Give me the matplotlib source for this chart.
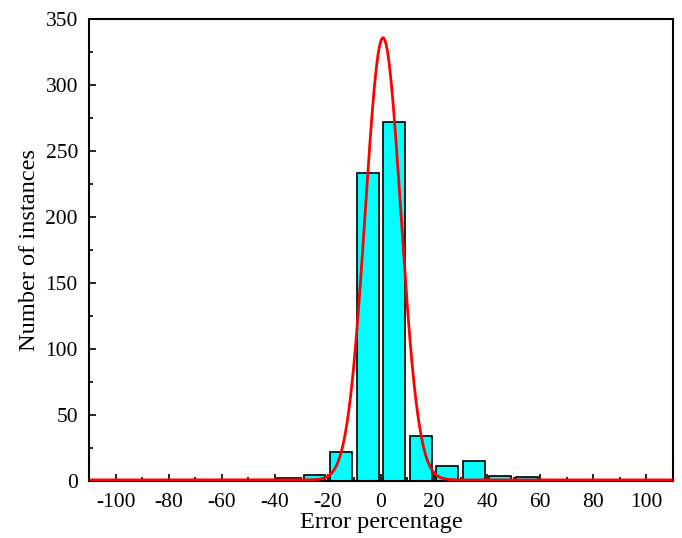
import numpy as np
import matplotlib.pyplot as plt
from matplotlib.ticker import MultipleLocator

plt.rcParams['font.family'] = ['Liberation Serif', 'DejaVu Serif']
plt.rcParams['axes.unicode_minus'] = False

# histogram bins (centres) and counts
bin_centers = [-35, -25, -15, -5, 5, 15, 25, 35, 45, 55]
counts = [2, 4.5, 22, 233, 272, 34, 11.5, 15, 4, 3]

# gaussian fit parameters
amp = 335
mu = 0.8
sigma = 6.7
offset = 0.8

fig = plt.figure(figsize=(6.82, 5.38), dpi=100)
ax = fig.add_axes([0.1305, 0.106, 0.856, 0.8587])

ax.bar(bin_centers, counts, width=8.2, color='#00ffff', edgecolor='black', linewidth=1.2, zorder=2)

x = np.linspace(-110, 110, 2000)
y = offset + amp * np.exp(-(x - mu) ** 2 / (2 * sigma ** 2))
ax.plot(x, y, color='red', linewidth=2.0, zorder=3)

ax.set_xlim(-110, 110)
ax.set_ylim(0, 350)
ax.xaxis.set_major_locator(MultipleLocator(20))
ax.xaxis.set_minor_locator(MultipleLocator(10))
ax.yaxis.set_major_locator(MultipleLocator(50))
ax.yaxis.set_minor_locator(MultipleLocator(25))
ax.tick_params(which='both', direction='in', top=False, right=False, labelsize=15.5)
ax.tick_params(which='major', length=5, width=1.2)
ax.tick_params(which='minor', length=3, width=1.2)
ax.tick_params(axis='y', pad=8)
ax.tick_params(axis='x', pad=9)
for s in ax.spines.values():
    s.set_linewidth(1.5)

ax.set_xlabel('Error percentage', fontsize=17.6, labelpad=0)
ax.set_ylabel('Number of instances', fontsize=17.6, labelpad=4)

fig.savefig('out.png', dpi=100)
